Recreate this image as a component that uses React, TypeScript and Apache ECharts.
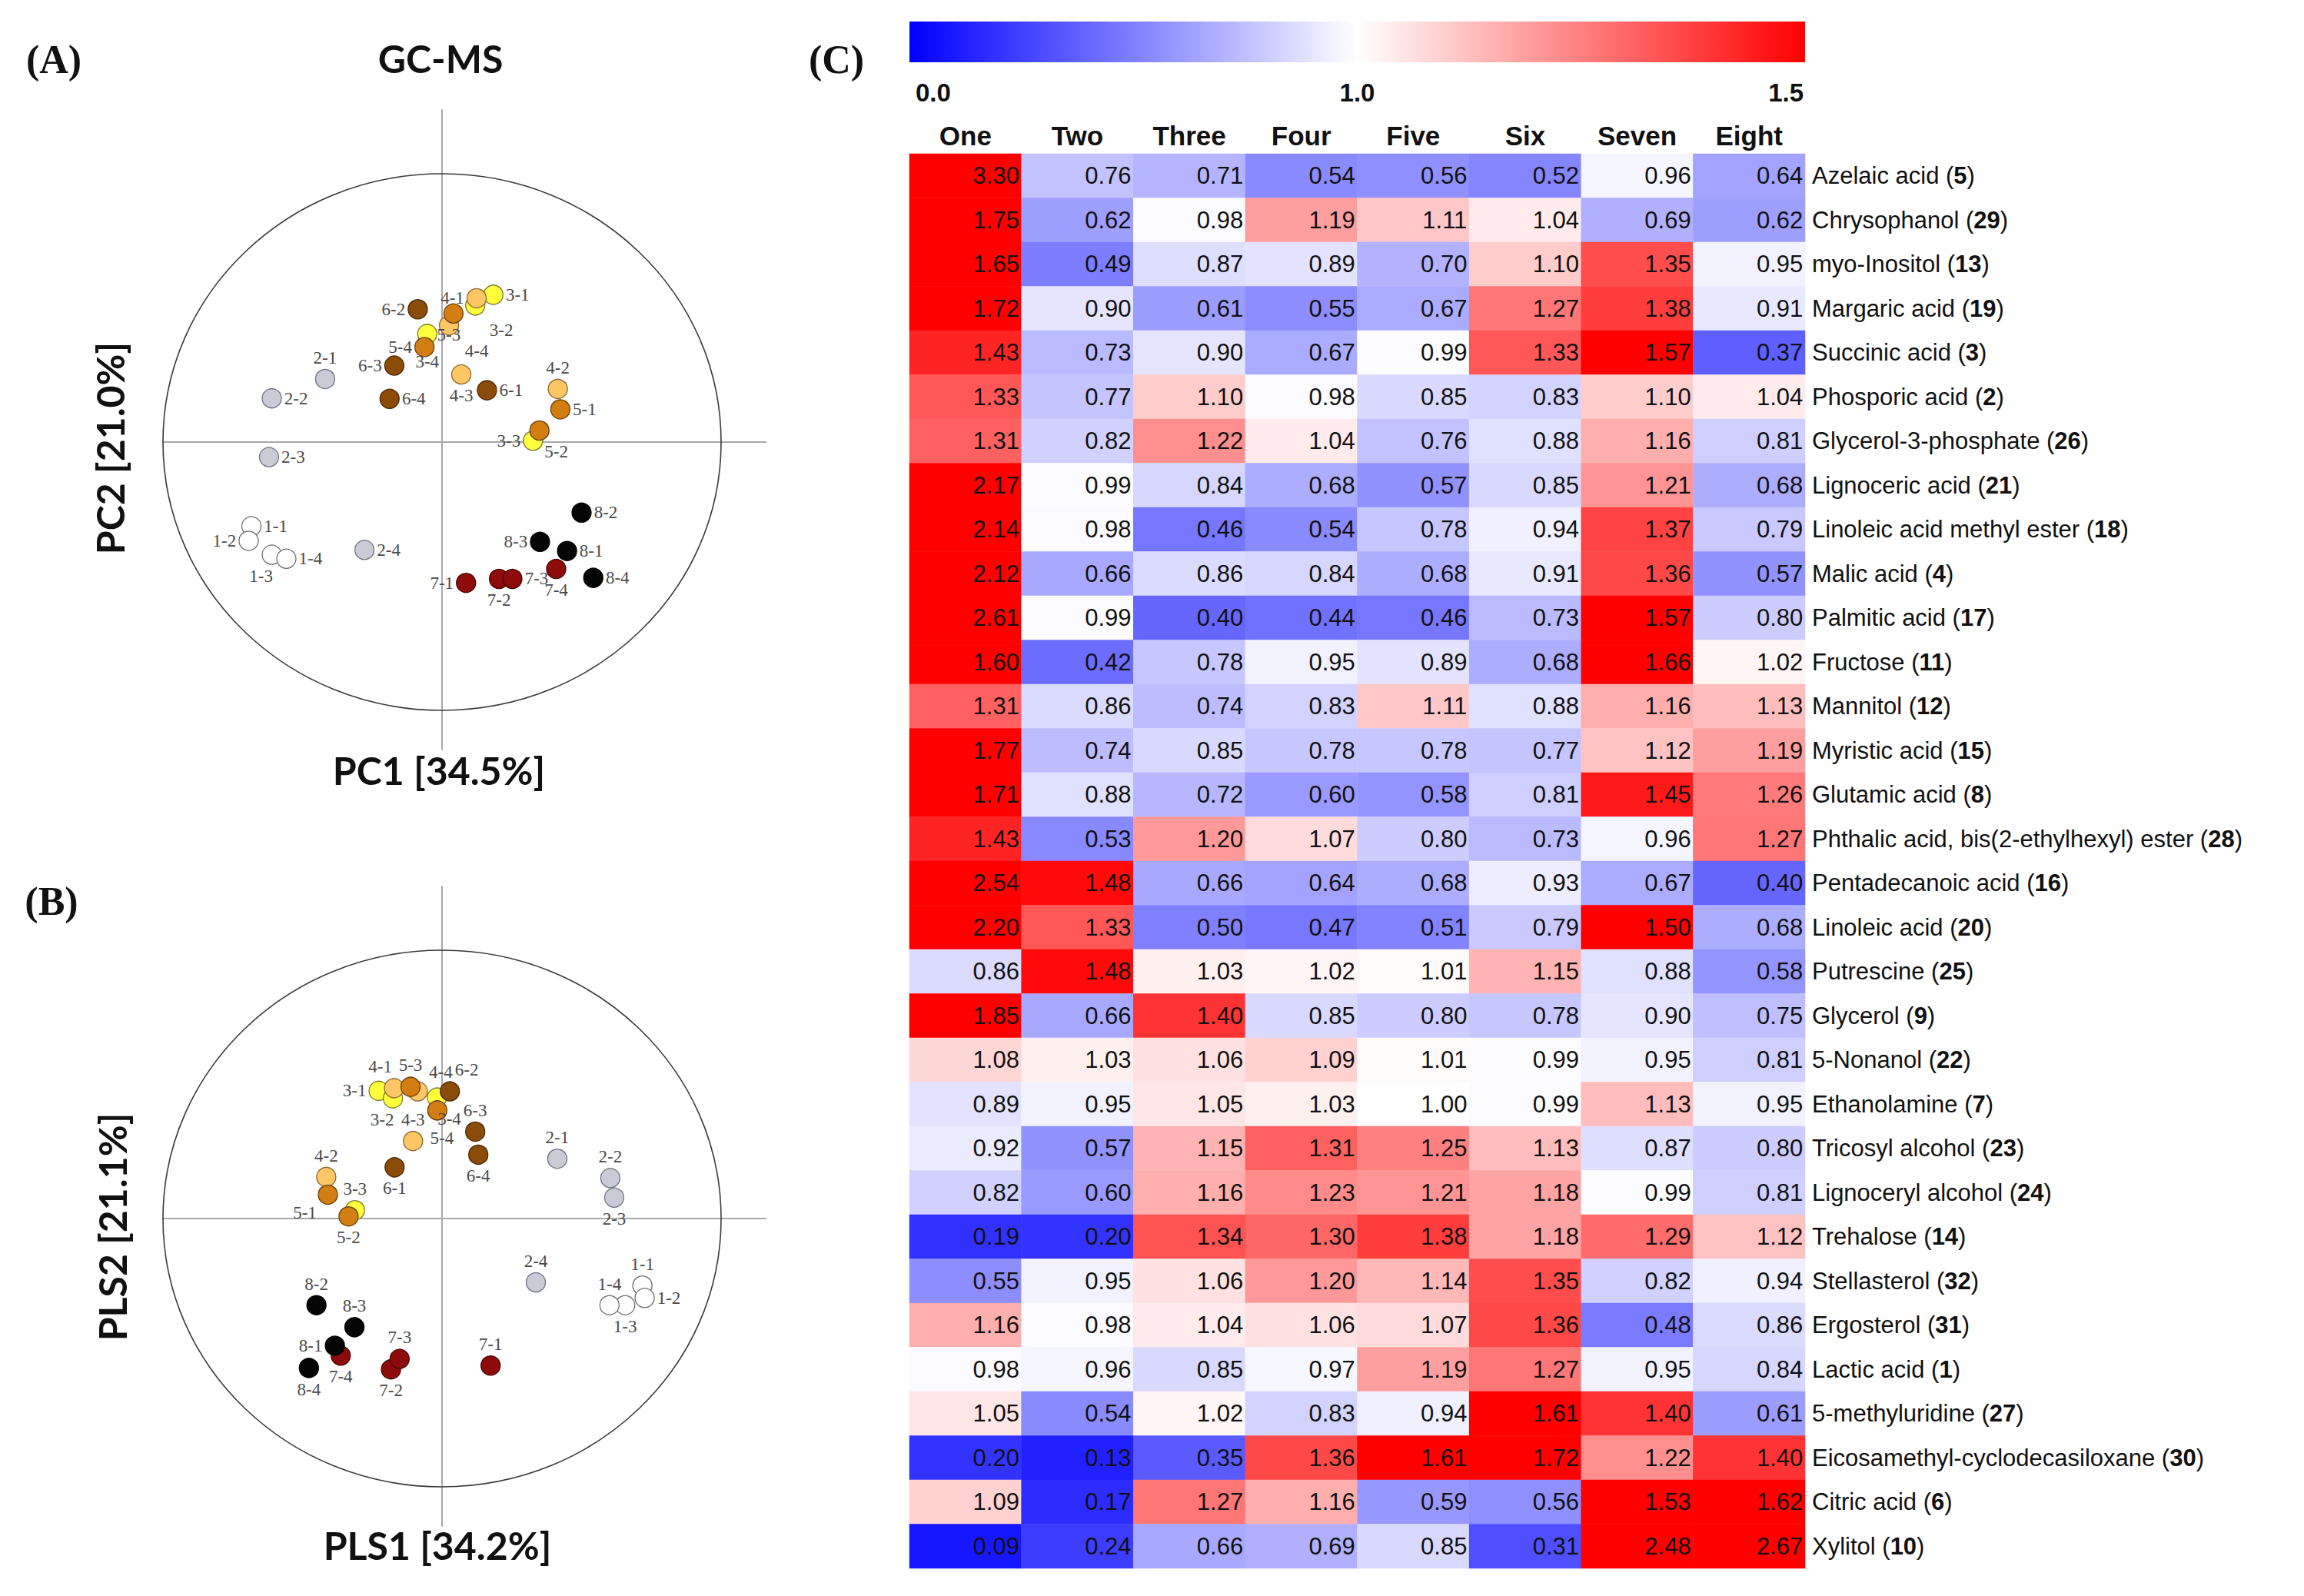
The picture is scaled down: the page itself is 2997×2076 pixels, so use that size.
import React, { useEffect, useRef } from 'react';
import * as echarts from 'echarts';

const W = 2997;
const H = 2076;

// ---------- Data ----------
// PCA (panel A) scores per sample group 1..8, replicates 1..4 (unit-circle coordinates)
const pcaScores: number[][][] = [
  [[-0.683, -0.314], [-0.693, -0.368], [-0.610, -0.420], [-0.558, -0.435]],
  [[-0.419, 0.235], [-0.610, 0.163], [-0.620, -0.056], [-0.278, -0.402]],
  [[0.184, 0.549], [0.119, 0.509], [0.326, 0.005], [-0.053, 0.403]],
  [[0.124, 0.536], [0.415, 0.198], [0.069, 0.252], [0.025, 0.435]],
  [[0.424, 0.122], [0.349, 0.043], [0.041, 0.479], [-0.063, 0.354]],
  [[0.161, 0.193], [-0.087, 0.495], [-0.171, 0.285], [-0.188, 0.161]],
  [[0.086, -0.525], [0.204, -0.510], [0.252, -0.510], [0.409, -0.473]],
  [[0.448, -0.406], [0.500, -0.263], [0.351, -0.372], [0.542, -0.506]],
];
// PLS (panel B) scores
const plsScores: number[][][] = [
  [[0.718, -0.250], [0.726, -0.296], [0.656, -0.323], [0.600, -0.323]],
  [[0.413, 0.223], [0.603, 0.151], [0.617, 0.078], [0.336, -0.238]],
  [[-0.227, 0.476], [-0.176, 0.448], [-0.312, 0.031], [-0.018, 0.451]],
  [[-0.172, 0.486], [-0.415, 0.155], [-0.104, 0.289], [-0.087, 0.474]],
  [[-0.409, 0.089], [-0.335, 0.008], [-0.113, 0.491], [-0.017, 0.403]],
  [[-0.170, 0.191], [0.028, 0.474], [0.119, 0.324], [0.130, 0.238]],
  [[0.174, -0.548], [-0.183, -0.562], [-0.152, -0.523], [-0.363, -0.511]],
  [[-0.384, -0.474], [-0.450, -0.323], [-0.314, -0.405], [-0.477, -0.557]],
];

const sampleNames = ['One', 'Two', 'Three', 'Four', 'Five', 'Six', 'Seven', 'Eight'];
const compoundNames = [
  'Azelaic acid', 'Chrysophanol', 'myo-Inositol', 'Margaric acid', 'Succinic acid',
  'Phosporic acid', 'Glycerol-3-phosphate', 'Lignoceric acid', 'Linoleic acid methyl ester',
  'Malic acid', 'Palmitic acid', 'Fructose', 'Mannitol', 'Myristic acid', 'Glutamic acid',
  'Phthalic acid, bis(2-ethylhexyl) ester', 'Pentadecanoic acid', 'Linoleic acid', 'Putrescine',
  'Glycerol', '5-Nonanol', 'Ethanolamine', 'Tricosyl alcohol', 'Lignoceryl alcohol', 'Trehalose',
  'Stellasterol', 'Ergosterol', 'Lactic acid', '5-methyluridine', 'Eicosamethyl-cyclodecasiloxane',
  'Citric acid', 'Xylitol',
];
const compoundIds = [5, 29, 13, 19, 3, 2, 26, 21, 18, 4, 17, 11, 12, 15, 8, 28, 16, 20, 25, 9, 22, 7, 23, 24, 14, 32, 31, 1, 27, 30, 6, 10];
const heatValues: number[][] = [
  [3.30, 0.76, 0.71, 0.54, 0.56, 0.52, 0.96, 0.64],
  [1.75, 0.62, 0.98, 1.19, 1.11, 1.04, 0.69, 0.62],
  [1.65, 0.49, 0.87, 0.89, 0.70, 1.10, 1.35, 0.95],
  [1.72, 0.90, 0.61, 0.55, 0.67, 1.27, 1.38, 0.91],
  [1.43, 0.73, 0.90, 0.67, 0.99, 1.33, 1.57, 0.37],
  [1.33, 0.77, 1.10, 0.98, 0.85, 0.83, 1.10, 1.04],
  [1.31, 0.82, 1.22, 1.04, 0.76, 0.88, 1.16, 0.81],
  [2.17, 0.99, 0.84, 0.68, 0.57, 0.85, 1.21, 0.68],
  [2.14, 0.98, 0.46, 0.54, 0.78, 0.94, 1.37, 0.79],
  [2.12, 0.66, 0.86, 0.84, 0.68, 0.91, 1.36, 0.57],
  [2.61, 0.99, 0.40, 0.44, 0.46, 0.73, 1.57, 0.80],
  [1.60, 0.42, 0.78, 0.95, 0.89, 0.68, 1.66, 1.02],
  [1.31, 0.86, 0.74, 0.83, 1.11, 0.88, 1.16, 1.13],
  [1.77, 0.74, 0.85, 0.78, 0.78, 0.77, 1.12, 1.19],
  [1.71, 0.88, 0.72, 0.60, 0.58, 0.81, 1.45, 1.26],
  [1.43, 0.53, 1.20, 1.07, 0.80, 0.73, 0.96, 1.27],
  [2.54, 1.48, 0.66, 0.64, 0.68, 0.93, 0.67, 0.40],
  [2.20, 1.33, 0.50, 0.47, 0.51, 0.79, 1.50, 0.68],
  [0.86, 1.48, 1.03, 1.02, 1.01, 1.15, 0.88, 0.58],
  [1.85, 0.66, 1.40, 0.85, 0.80, 0.78, 0.90, 0.75],
  [1.08, 1.03, 1.06, 1.09, 1.01, 0.99, 0.95, 0.81],
  [0.89, 0.95, 1.05, 1.03, 1.00, 0.99, 1.13, 0.95],
  [0.92, 0.57, 1.15, 1.31, 1.25, 1.13, 0.87, 0.80],
  [0.82, 0.60, 1.16, 1.23, 1.21, 1.18, 0.99, 0.81],
  [0.19, 0.20, 1.34, 1.30, 1.38, 1.18, 1.29, 1.12],
  [0.55, 0.95, 1.06, 1.20, 1.14, 1.35, 0.82, 0.94],
  [1.16, 0.98, 1.04, 1.06, 1.07, 1.36, 0.48, 0.86],
  [0.98, 0.96, 0.85, 0.97, 1.19, 1.27, 0.95, 0.84],
  [1.05, 0.54, 1.02, 0.83, 0.94, 1.61, 1.40, 0.61],
  [0.20, 0.13, 0.35, 1.36, 1.61, 1.72, 1.22, 1.40],
  [1.09, 0.17, 1.27, 1.16, 0.59, 0.56, 1.53, 1.62],
  [0.09, 0.24, 0.66, 0.69, 0.85, 0.31, 2.48, 2.67],
];
const colorbarTicks = ['0.0', '1.0', '1.5'];

// ---------- Styles / layout ----------
const groupColors = ['#ffffff', '#c9ccd6', '#ffff3c', '#ffc665', '#d27e12', '#8a4c08', '#8e0b0b', '#050505'];
const groupBorders = ['#6f6f6f', '#6f7380', '#7a7a2a', '#8a6a30', '#6a3e08', '#4a2804', '#4a0505', '#000000'];

// label placement codes: [position, dx, dy]
type LP = [string, number, number];
const pcaLabelPos: LP[][] = [
  [['right', 0, 0], ['left', 0, 0], ['bottom', -14, 0], ['right', 0, 0]],
  [['top', 0, 0], ['right', 0, 0], ['right', 0, 0], ['right', 0, 0]],
  [['right', 0, 0], ['bottom', 34, 4], ['left', 0, 0], ['bottom', 0, 8]],
  [['left', 0, 0], ['top', 0, 0], ['bottom', 0, 0], ['bottom', 36, 6]],
  [['right', 0, 0], ['bottom', 22, 0], ['bottom', -6, 0], ['left', 0, 0]],
  [['right', 0, 0], ['left', 0, 0], ['left', 0, 0], ['right', 0, 0]],
  [['left', 0, 0], ['bottom', 0, 0], ['right', 0, 0], ['bottom', 0, 0]],
  [['right', 0, 0], ['right', 0, 0], ['left', 0, 0], ['right', 0, 0]],
];
const plsLabelPos: LP[][] = [
  [['top', 0, 0], ['right', 0, 0], ['bottom', 0, 0], ['top', 0, 0]],
  [['top', 0, 0], ['top', 0, 0], ['bottom', 0, 0], ['top', 0, 0]],
  [['left', 0, 0], ['bottom', -14, 0], ['top', 0, 0], ['bottom', 16, 0]],
  [['top', -18, 0], ['top', 0, 0], ['top', 0, 0], ['top', 30, 3]],
  [['bottom', -30, -4], ['bottom', 0, 0], ['top', 0, 0], ['bottom', 6, 8]],
  [['bottom', 0, 0], ['top', 22, 0], ['top', 0, 0], ['bottom', 0, 0]],
  [['top', 0, 0], ['bottom', 0, 0], ['top', 0, 0], ['bottom', 0, 0]],
  [['left', 0, 0], ['top', 0, 0], ['top', 0, 0], ['bottom', 0, 0]],
];

const RX = 363;
const RY = 349;
const AX = { cx: 575, cy: 575 };
const BX = { cx: 575, cy: 1585 };
const X_MIN = -1.0, X_MAX = 1.16, Y_MIN = -1.146, Y_MAX = 1.238;

const HM = { left: 1183, top: 200, width: 1165, height: 1840 };

const SANS = '"Liberation Sans", Arial, sans-serif';
const SERIF = '"Liberation Serif", "Times New Roman", serif';
const TITLE = 'Lato, "Open Sans", sans-serif';

function gridFor(c: { cx: number; cy: number }) {
  return {
    left: c.cx + X_MIN * RX,
    top: c.cy - Y_MAX * RY,
    width: (X_MAX - X_MIN) * RX,
    height: (Y_MAX - Y_MIN) * RY,
    containLabel: false,
  };
}

const crossAxisLine = { show: true, onZero: true, lineStyle: { color: '#a8a8a8', width: 2 } };

function valueAxis(min: number, max: number, idx: number) {
  return {
    type: 'value', gridIndex: idx, min, max,
    axisLine: crossAxisLine, axisTick: { show: false }, axisLabel: { show: false },
    splitLine: { show: false },
  };
}

function scatterSeries(scores: number[][][], labelPos: LP[][], axisIdx: number) {
  return scores.map((grp, g) => ({
    type: 'scatter',
    xAxisIndex: axisIdx,
    yAxisIndex: axisIdx,
    symbolSize: 25,
    silent: true,
    emphasis: { disabled: true },
    itemStyle: { color: groupColors[g], borderColor: groupBorders[g], borderWidth: 1.3, opacity: 1 },
    label: { show: true, formatter: '{b}', color: '#4a4a4a', fontFamily: SERIF, fontSize: 23, distance: 3 },
    data: grp.map((p, i) => {
      const [pos, dx, dy] = labelPos[g][i];
      return { name: `${g + 1}-${i + 1}`, value: p, label: { position: pos, offset: [dx, dy] } };
    }),
  }));
}

function txt(text: string, x: number, y: number, font: string, align = 'center', rotation = 0, fill = '#111') {
  return {
    type: 'text', x, y, rotation, silent: true,
    style: { text, font, fill, align, verticalAlign: 'middle', textAlign: align, textVerticalAlign: 'middle' },
  };
}

function buildOption() {
  const heatData: number[][] = [];
  heatValues.forEach((row, r) => row.forEach((v, c) => heatData.push([c, r, v])));

  const seriesA = scatterSeries(pcaScores, pcaLabelPos, 0);
  const seriesB = scatterSeries(plsScores, plsLabelPos, 1);
  const heatIndex = seriesA.length + seriesB.length;

  const tickPos = [HM.left + 8, HM.left + HM.width / 2, HM.left + HM.width - 2];
  const tickAlign = ['left', 'center', 'right'];

  return {
    animation: false,
    backgroundColor: '#ffffff',
    grid: [gridFor(AX), gridFor(BX), { ...HM, containLabel: false }],
    xAxis: [
      valueAxis(X_MIN, X_MAX, 0),
      valueAxis(X_MIN, X_MAX, 1),
      {
        type: 'category', gridIndex: 2, data: sampleNames, position: 'top',
        axisLine: { show: false }, axisTick: { show: false }, splitLine: { show: false },
        axisLabel: { margin: 6, color: '#111', fontFamily: SANS, fontWeight: 'bold', fontSize: 35, interval: 0 },
      },
    ],
    yAxis: [
      valueAxis(Y_MIN, Y_MAX, 0),
      valueAxis(Y_MIN, Y_MAX, 1),
      {
        type: 'category', gridIndex: 2, data: compoundNames, inverse: true, position: 'right',
        axisLine: { show: false }, axisTick: { show: false }, splitLine: { show: false },
        axisLabel: {
          margin: 9, interval: 0, fontSize: 31, fontFamily: SANS, color: '#111',
          formatter: (v: string, i: number) => `{n|${v} (}{b|${compoundIds[i]}}{n|)}`,
          rich: {
            n: { fontSize: 31, fontFamily: SANS, color: '#111' },
            b: { fontSize: 31, fontFamily: SANS, color: '#111', fontWeight: 'bold' },
          },
        },
      },
    ],
    visualMap: {
      type: 'continuous', show: false, min: 0, max: 1.5, dimension: 2, seriesIndex: heatIndex,
      inRange: { color: ['#0000ff', '#4040ff', '#8080ff', '#bfbfff', '#ffffff', '#ff8080', '#ff0000'] },
    },
    series: [
      ...seriesA,
      ...seriesB,
      {
        type: 'heatmap', xAxisIndex: 2, yAxisIndex: 2, data: heatData, silent: true,
        emphasis: { disabled: true },
        itemStyle: { borderWidth: 0 },
        label: {
          show: true, position: 'insideRight', distance: 3, color: '#111', fontFamily: SANS, fontSize: 31,
          formatter: (p: any) => Number(p.value[2]).toFixed(2),
        },
      },
    ],
    graphic: [
      { type: 'ellipse', silent: true, z: 1, shape: { cx: AX.cx, cy: AX.cy, rx: RX, ry: RY }, style: { fill: 'none', stroke: '#3a3a3a', lineWidth: 1.6 } },
      { type: 'ellipse', silent: true, z: 1, shape: { cx: BX.cx, cy: BX.cy, rx: RX, ry: RY }, style: { fill: 'none', stroke: '#3a3a3a', lineWidth: 1.6 } },
      txt('(A)', 70, 77, `bold 52px ${SERIF}`),
      txt('GC-MS', 573, 76, `bold 50px ${TITLE}`),
      txt('PC2 [21.0%]', 143, 583, `bold 50px ${TITLE}`, 'center', Math.PI / 2),
      txt('PC1 [34.5%]', 571, 1002, `bold 50px ${TITLE}`),
      txt('(B)', 67, 1172, `bold 52px ${SERIF}`),
      txt('PLS2 [21.1%]', 146, 1596, `bold 50px ${TITLE}`, 'center', Math.PI / 2),
      txt('PLS1 [34.2%]', 569, 2010, `bold 50px ${TITLE}`),
      txt('(C)', 1088, 77, `bold 52px ${SERIF}`),
      {
        type: 'rect', silent: true,
        shape: { x: HM.left, y: 28, width: HM.width, height: 53 },
        style: {
          fill: {
            type: 'linear', x: 0, y: 0, x2: 1, y2: 0,
            colorStops: [
              { offset: 0, color: '#0000ff' },
              { offset: 0.5, color: '#ffffff' },
              { offset: 1, color: '#ff0000' },
            ],
          },
        },
      },
      ...colorbarTicks.map((t, i) => txt(t, tickPos[i], 120, `bold 33px ${SANS}`, tickAlign[i])),
    ],
  };
}

export default function App() {
  const ref = useRef<HTMLDivElement>(null);
  useEffect(() => {
    document.body.style.margin = '0';
    document.body.style.overflow = 'hidden';
    const chart = echarts.init(ref.current as HTMLDivElement, null, { renderer: 'svg', width: W, height: H });
    chart.setOption(buildOption() as any);
    return () => chart.dispose();
  }, []);
  return <div ref={ref} style={{ width: W, height: H, background: '#fff' }} />;
}
